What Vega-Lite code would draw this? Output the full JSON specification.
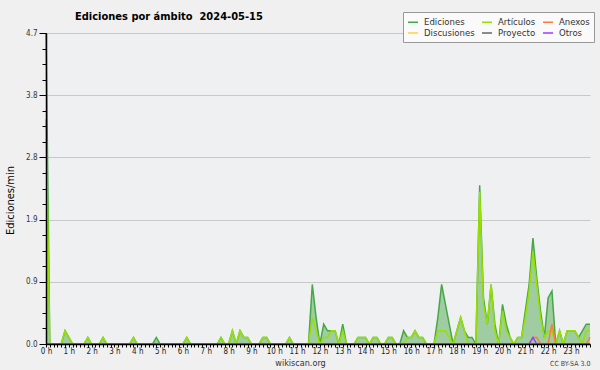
{
"$schema": "https://vega.github.io/schema/vega-lite/v6.json",
"width": 544, "height": 311,
"autosize": {"type": "none"},
"padding": {"left": 46, "top": 33, "right": 10, "bottom": 26},
"background": "#f0f0f0",
"view": {"stroke": null, "fill": "#eef0f2"},
"title": {"text": "Ediciones por ámbito\u00a0 2024-05-15", "anchor": "start", "frame": "group", "dx": 29, "dy": 22, "offset": 12, "font": "DejaVu Sans Condensed", "fontSize": 11, "fontWeight": "bold", "color": "#000000"},
"data": {"values": [
{"min":0,"ed":4.7,"art":3.4,"anx":0,"dis":0,"pro":0,"otr":0},
{"min":10,"ed":0,"art":0,"anx":0,"dis":0,"pro":0,"otr":0},
{"min":20,"ed":0,"art":0,"anx":0,"dis":0,"pro":0,"otr":0},
{"min":30,"ed":0,"art":0,"anx":0,"dis":0,"pro":0,"otr":0},
{"min":40,"ed":0,"art":0,"anx":0,"dis":0,"pro":0,"otr":0},
{"min":50,"ed":0.2,"art":0.2,"anx":0,"dis":0,"pro":0,"otr":0},
{"min":60,"ed":0.1,"art":0.1,"anx":0,"dis":0,"pro":0,"otr":0},
{"min":70,"ed":0,"art":0,"anx":0,"dis":0,"pro":0,"otr":0},
{"min":80,"ed":0,"art":0,"anx":0,"dis":0,"pro":0,"otr":0},
{"min":90,"ed":0,"art":0,"anx":0,"dis":0,"pro":0,"otr":0},
{"min":100,"ed":0,"art":0,"anx":0,"dis":0,"pro":0,"otr":0},
{"min":110,"ed":0.1,"art":0.1,"anx":0,"dis":0,"pro":0,"otr":0},
{"min":120,"ed":0,"art":0,"anx":0,"dis":0,"pro":0,"otr":0},
{"min":130,"ed":0,"art":0,"anx":0,"dis":0,"pro":0,"otr":0},
{"min":140,"ed":0,"art":0,"anx":0,"dis":0,"pro":0,"otr":0},
{"min":150,"ed":0.1,"art":0.1,"anx":0,"dis":0,"pro":0,"otr":0},
{"min":160,"ed":0,"art":0,"anx":0,"dis":0,"pro":0,"otr":0},
{"min":170,"ed":0,"art":0,"anx":0,"dis":0,"pro":0,"otr":0},
{"min":180,"ed":0,"art":0,"anx":0,"dis":0,"pro":0,"otr":0},
{"min":190,"ed":0,"art":0,"anx":0,"dis":0,"pro":0,"otr":0},
{"min":200,"ed":0,"art":0,"anx":0,"dis":0,"pro":0,"otr":0},
{"min":210,"ed":0,"art":0,"anx":0,"dis":0,"pro":0,"otr":0},
{"min":220,"ed":0,"art":0,"anx":0,"dis":0,"pro":0,"otr":0},
{"min":230,"ed":0.1,"art":0.1,"anx":0,"dis":0,"pro":0,"otr":0},
{"min":240,"ed":0,"art":0,"anx":0,"dis":0,"pro":0,"otr":0},
{"min":250,"ed":0,"art":0,"anx":0,"dis":0,"pro":0,"otr":0},
{"min":260,"ed":0,"art":0,"anx":0,"dis":0,"pro":0,"otr":0},
{"min":270,"ed":0,"art":0,"anx":0,"dis":0,"pro":0,"otr":0},
{"min":280,"ed":0,"art":0,"anx":0,"dis":0,"pro":0,"otr":0},
{"min":290,"ed":0.1,"art":0,"anx":0,"dis":0,"pro":0,"otr":0},
{"min":300,"ed":0,"art":0,"anx":0,"dis":0,"pro":0,"otr":0},
{"min":310,"ed":0,"art":0,"anx":0,"dis":0,"pro":0,"otr":0},
{"min":320,"ed":0,"art":0,"anx":0,"dis":0,"pro":0,"otr":0},
{"min":330,"ed":0,"art":0,"anx":0,"dis":0,"pro":0,"otr":0},
{"min":340,"ed":0,"art":0,"anx":0,"dis":0,"pro":0,"otr":0},
{"min":350,"ed":0,"art":0,"anx":0,"dis":0,"pro":0,"otr":0},
{"min":360,"ed":0,"art":0,"anx":0,"dis":0,"pro":0,"otr":0},
{"min":370,"ed":0.1,"art":0.1,"anx":0,"dis":0,"pro":0,"otr":0},
{"min":380,"ed":0,"art":0,"anx":0,"dis":0,"pro":0,"otr":0},
{"min":390,"ed":0,"art":0,"anx":0,"dis":0,"pro":0,"otr":0},
{"min":400,"ed":0,"art":0,"anx":0,"dis":0,"pro":0,"otr":0},
{"min":410,"ed":0,"art":0,"anx":0,"dis":0,"pro":0,"otr":0},
{"min":420,"ed":0,"art":0,"anx":0,"dis":0,"pro":0,"otr":0},
{"min":430,"ed":0,"art":0,"anx":0,"dis":0,"pro":0,"otr":0},
{"min":440,"ed":0,"art":0,"anx":0,"dis":0,"pro":0,"otr":0},
{"min":450,"ed":0,"art":0,"anx":0,"dis":0,"pro":0,"otr":0},
{"min":460,"ed":0.1,"art":0.1,"anx":0,"dis":0,"pro":0,"otr":0},
{"min":470,"ed":0,"art":0,"anx":0,"dis":0,"pro":0,"otr":0},
{"min":480,"ed":0,"art":0,"anx":0,"dis":0,"pro":0,"otr":0},
{"min":490,"ed":0.2,"art":0.2,"anx":0,"dis":0,"pro":0,"otr":0},
{"min":500,"ed":0,"art":0,"anx":0,"dis":0,"pro":0,"otr":0},
{"min":510,"ed":0.2,"art":0.2,"anx":0,"dis":0,"pro":0,"otr":0},
{"min":520,"ed":0.1,"art":0.1,"anx":0,"dis":0,"pro":0,"otr":0},
{"min":530,"ed":0.1,"art":0.1,"anx":0,"dis":0,"pro":0,"otr":0},
{"min":540,"ed":0,"art":0,"anx":0,"dis":0,"pro":0,"otr":0},
{"min":550,"ed":0,"art":0,"anx":0,"dis":0,"pro":0,"otr":0},
{"min":560,"ed":0,"art":0,"anx":0,"dis":0,"pro":0,"otr":0},
{"min":570,"ed":0.1,"art":0.1,"anx":0,"dis":0,"pro":0,"otr":0},
{"min":580,"ed":0.1,"art":0.1,"anx":0,"dis":0,"pro":0,"otr":0},
{"min":590,"ed":0,"art":0,"anx":0,"dis":0,"pro":0,"otr":0},
{"min":600,"ed":0,"art":0,"anx":0,"dis":0,"pro":0,"otr":0},
{"min":610,"ed":0,"art":0,"anx":0,"dis":0,"pro":0,"otr":0},
{"min":620,"ed":0,"art":0,"anx":0,"dis":0,"pro":0,"otr":0},
{"min":630,"ed":0,"art":0,"anx":0,"dis":0,"pro":0,"otr":0},
{"min":640,"ed":0.1,"art":0.1,"anx":0,"dis":0,"pro":0,"otr":0},
{"min":650,"ed":0,"art":0,"anx":0,"dis":0,"pro":0,"otr":0},
{"min":660,"ed":0,"art":0,"anx":0,"dis":0,"pro":0,"otr":0},
{"min":670,"ed":0,"art":0,"anx":0,"dis":0,"pro":0,"otr":0},
{"min":680,"ed":0,"art":0,"anx":0,"dis":0,"pro":0,"otr":0},
{"min":690,"ed":0,"art":0,"anx":0,"dis":0,"pro":0,"otr":0},
{"min":700,"ed":0.9,"art":0.4,"anx":0,"dis":0,"pro":0,"otr":0},
{"min":710,"ed":0.4,"art":0.2,"anx":0,"dis":0,"pro":0,"otr":0},
{"min":720,"ed":0,"art":0,"anx":0,"dis":0,"pro":0,"otr":0},
{"min":730,"ed":0.3,"art":0.1,"anx":0,"dis":0,"pro":0,"otr":0},
{"min":740,"ed":0.2,"art":0.1,"anx":0,"dis":0,"pro":0,"otr":0},
{"min":750,"ed":0.2,"art":0.2,"anx":0,"dis":0,"pro":0,"otr":0},
{"min":760,"ed":0.2,"art":0.2,"anx":0,"dis":0,"pro":0,"otr":0},
{"min":770,"ed":0,"art":0,"anx":0,"dis":0,"pro":0,"otr":0},
{"min":780,"ed":0.3,"art":0.2,"anx":0,"dis":0,"pro":0,"otr":0},
{"min":790,"ed":0,"art":0,"anx":0,"dis":0,"pro":0,"otr":0},
{"min":800,"ed":0,"art":0,"anx":0,"dis":0,"pro":0,"otr":0},
{"min":810,"ed":0,"art":0,"anx":0,"dis":0,"pro":0,"otr":0},
{"min":820,"ed":0.1,"art":0.1,"anx":0,"dis":0,"pro":0,"otr":0},
{"min":830,"ed":0.1,"art":0.1,"anx":0,"dis":0,"pro":0,"otr":0},
{"min":840,"ed":0.1,"art":0.1,"anx":0,"dis":0,"pro":0,"otr":0},
{"min":850,"ed":0,"art":0,"anx":0,"dis":0,"pro":0,"otr":0},
{"min":860,"ed":0.1,"art":0.1,"anx":0,"dis":0,"pro":0,"otr":0},
{"min":870,"ed":0.1,"art":0.1,"anx":0,"dis":0,"pro":0,"otr":0},
{"min":880,"ed":0,"art":0,"anx":0,"dis":0,"pro":0,"otr":0},
{"min":890,"ed":0,"art":0,"anx":0,"dis":0,"pro":0,"otr":0},
{"min":900,"ed":0.1,"art":0.1,"anx":0,"dis":0,"pro":0,"otr":0},
{"min":910,"ed":0.1,"art":0.1,"anx":0,"dis":0,"pro":0,"otr":0},
{"min":920,"ed":0,"art":0,"anx":0,"dis":0,"pro":0,"otr":0},
{"min":930,"ed":0,"art":0,"anx":0,"dis":0,"pro":0,"otr":0},
{"min":940,"ed":0.2,"art":0,"anx":0,"dis":0,"pro":0,"otr":0},
{"min":950,"ed":0.1,"art":0.1,"anx":0,"dis":0,"pro":0,"otr":0},
{"min":960,"ed":0.1,"art":0.1,"anx":0,"dis":0,"pro":0,"otr":0},
{"min":970,"ed":0.2,"art":0.2,"anx":0,"dis":0,"pro":0,"otr":0},
{"min":980,"ed":0.1,"art":0.1,"anx":0,"dis":0,"pro":0,"otr":0},
{"min":990,"ed":0.1,"art":0.1,"anx":0,"dis":0,"pro":0,"otr":0},
{"min":1000,"ed":0,"art":0,"anx":0,"dis":0,"pro":0,"otr":0},
{"min":1010,"ed":0,"art":0,"anx":0,"dis":0,"pro":0,"otr":0},
{"min":1020,"ed":0,"art":0,"anx":0,"dis":0,"pro":0,"otr":0},
{"min":1030,"ed":0.4,"art":0.2,"anx":0,"dis":0,"pro":0,"otr":0},
{"min":1040,"ed":0.9,"art":0.2,"anx":0,"dis":0,"pro":0,"otr":0},
{"min":1050,"ed":0.6,"art":0.2,"anx":0,"dis":0,"pro":0,"otr":0},
{"min":1060,"ed":0.3,"art":0.1,"anx":0,"dis":0,"pro":0,"otr":0},
{"min":1070,"ed":0,"art":0,"anx":0,"dis":0,"pro":0,"otr":0},
{"min":1080,"ed":0.2,"art":0.2,"anx":0,"dis":0,"pro":0,"otr":0},
{"min":1090,"ed":0.4,"art":0.4,"anx":0,"dis":0,"pro":0,"otr":0},
{"min":1100,"ed":0.2,"art":0.2,"anx":0,"dis":0,"pro":0,"otr":0},
{"min":1110,"ed":0.1,"art":0,"anx":0,"dis":0,"pro":0,"otr":0},
{"min":1120,"ed":0.1,"art":0,"anx":0,"dis":0,"pro":0,"otr":0},
{"min":1130,"ed":0,"art":0,"anx":0,"dis":0,"pro":0,"otr":0},
{"min":1140,"ed":2.4,"art":2.3,"anx":0,"dis":0,"pro":0,"otr":0},
{"min":1150,"ed":0.7,"art":0.6,"anx":0,"dis":0,"pro":0,"otr":0},
{"min":1160,"ed":0.3,"art":0.3,"anx":0,"dis":0,"pro":0,"otr":0},
{"min":1170,"ed":0.9,"art":0.9,"anx":0,"dis":0,"pro":0,"otr":0},
{"min":1180,"ed":0.3,"art":0.2,"anx":0,"dis":0,"pro":0,"otr":0},
{"min":1190,"ed":0,"art":0,"anx":0,"dis":0,"pro":0,"otr":0},
{"min":1200,"ed":0.6,"art":0.5,"anx":0,"dis":0,"pro":0,"otr":0},
{"min":1210,"ed":0.3,"art":0.2,"anx":0,"dis":0,"pro":0,"otr":0},
{"min":1220,"ed":0.1,"art":0.1,"anx":0,"dis":0,"pro":0,"otr":0},
{"min":1230,"ed":0,"art":0,"anx":0,"dis":0,"pro":0,"otr":0},
{"min":1240,"ed":0.1,"art":0.1,"anx":0,"dis":0,"pro":0,"otr":0},
{"min":1250,"ed":0.1,"art":0.1,"anx":0,"dis":0,"pro":0,"otr":0},
{"min":1260,"ed":0.5,"art":0.4,"anx":0,"dis":0,"pro":0,"otr":0},
{"min":1270,"ed":0.9,"art":0.8,"anx":0,"dis":0,"pro":0,"otr":0},
{"min":1280,"ed":1.6,"art":1.4,"anx":0.1,"dis":0,"pro":0,"otr":0.1},
{"min":1290,"ed":1.0,"art":0.9,"anx":0.1,"dis":0,"pro":0,"otr":0},
{"min":1300,"ed":0.5,"art":0.4,"anx":0,"dis":0,"pro":0,"otr":0},
{"min":1310,"ed":0.1,"art":0.1,"anx":0,"dis":0,"pro":0,"otr":0},
{"min":1320,"ed":0.7,"art":0.2,"anx":0,"dis":0,"pro":0,"otr":0},
{"min":1330,"ed":0.8,"art":0.2,"anx":0.3,"dis":0,"pro":0,"otr":0},
{"min":1340,"ed":0,"art":0,"anx":0,"dis":0,"pro":0,"otr":0},
{"min":1350,"ed":0.2,"art":0.2,"anx":0,"dis":0,"pro":0,"otr":0},
{"min":1360,"ed":0,"art":0,"anx":0,"dis":0,"pro":0,"otr":0},
{"min":1370,"ed":0.2,"art":0.2,"anx":0,"dis":0,"pro":0,"otr":0},
{"min":1380,"ed":0.2,"art":0.2,"anx":0,"dis":0,"pro":0,"otr":0},
{"min":1390,"ed":0.2,"art":0.2,"anx":0,"dis":0,"pro":0,"otr":0},
{"min":1400,"ed":0.1,"art":0.1,"anx":0,"dis":0,"pro":0,"otr":0},
{"min":1410,"ed":0.2,"art":0,"anx":0,"dis":0,"pro":0,"otr":0},
{"min":1420,"ed":0.3,"art":0.2,"anx":0,"dis":0,"pro":0,"otr":0},
{"min":1430,"ed":0.3,"art":0.2,"anx":0.1,"dis":0,"pro":0,"otr":0}
]},
"layer": [
{"mark": {"type": "area", "color": "#3fa03f", "opacity": 0.45},
 "encoding": {
  "x": {"field": "min", "type": "quantitative", "scale": {"domain": [0, 1430], "nice": false, "zero": false},
   "axis": {"orient": "bottom", "values": [0,10,20,30,40,50,60,70,80,90,100,110,120,130,140,150,160,170,180,190,200,210,220,230,240,250,260,270,280,290,300,310,320,330,340,350,360,370,380,390,400,410,420,430,440,450,460,470,480,490,500,510,520,530,540,550,560,570,580,590,600,610,620,630,640,650,660,670,680,690,700,710,720,730,740,750,760,770,780,790,800,810,820,830,840,850,860,870,880,890,900,910,920,930,940,950,960,970,980,990,1000,1010,1020,1030,1040,1050,1060,1070,1080,1090,1100,1110,1120,1130,1140,1150,1160,1170,1180,1190,1200,1210,1220,1230,1240,1250,1260,1270,1280,1290,1300,1310,1320,1330,1340,1350,1360,1370,1380,1390,1400,1410,1420,1430],
    "labels": false, "ticks": true, "tickSize": 3, "tickColor": "#000000", "tickWidth": 1, "domain": true, "domainColor": "#000000", "domainWidth": 1.5, "grid": false,
    "title": "CC BY-SA 3.0", "titleFont": "DejaVu Sans Condensed", "titleFontSize": 7, "titleFontWeight": "normal", "titleColor": "#444444", "titleAlign": "right", "titleAnchor": "end", "titleX": 544, "titleY": 21, "titleBaseline": "alphabetic", "zindex": 1}},
  "y": {"field": "ed", "type": "quantitative", "scale": {"domain": [0, 4.7], "nice": false, "zero": true},
   "axis": {"orient": "left", "values": [0,0.235,0.47,0.705,0.94,1.175,1.41,1.645,1.88,2.115,2.35,2.585,2.82,3.055,3.29,3.525,3.76,3.995,4.23,4.465,4.7],
    "labels": false, "ticks": true, "tickSize": 4, "tickColor": "#000000", "domain": true, "domainColor": "#000000", "domainWidth": 1.5, "grid": false, "title": null, "zindex": 1}}
 }},
{"mark": {"type": "line", "strokeWidth": 1.5},
 "encoding": {
  "x": {"field": "min", "type": "quantitative",
   "axis": {"orient": "bottom", "values": [0,60,120,180,240,300,360,420,480,540,600,660,720,780,840,900,960,1020,1080,1140,1200,1260,1320,1380],
    "labelExpr": "datum.value / 60 + ' h'", "ticks": false, "domain": false, "grid": false, "labelPadding": 3, "labelFont": "DejaVu Sans Condensed", "labelFontSize": 8, "labelColor": "#222222", "labelFlush": false, "labelOverlap": false, "labelBound": false,
    "title": "wikiscan.org", "titleFont": "DejaVu Sans Condensed", "titleFontSize": 9, "titleFontWeight": "normal", "titleColor": "#333333", "titleX": 254, "titleY": 21, "titleAlign": "center", "titleBaseline": "alphabetic"}},
  "y": {"field": "ed", "type": "quantitative",
   "axis": {"orient": "left", "values": [0, 0.94, 1.88, 2.82, 3.76, 4.7], "format": ".1f", "tickSize": 7, "tickColor": "#000000", "domain": false, "grid": true, "gridColor": "#c8c8c8", "gridWidth": 1,
    "labelFont": "DejaVu Sans Condensed", "labelFontSize": 8, "labelColor": "#333333", "labelPadding": 2, "labelFlush": false, "labelOverlap": false, "labelBound": false,
    "title": "Ediciones/min", "titleFont": "DejaVu Sans Condensed", "titleFontSize": 11, "titleFontWeight": "normal", "titleColor": "#000000", "titleAngle": 270, "titleX": -36, "titleY": 167, "titleAlign": "center", "titleBaseline": "middle", "zindex": 0}},
  "color": {"datum": "Ediciones", "type": "nominal",
   "scale": {"domain": ["Ediciones", "Discusiones", "Artículos", "Proyecto", "Anexos", "Otros"], "range": ["#45a845", "#ffd23c", "#99e000", "#666666", "#ff7b3a", "#9a3cff"]},
   "legend": {"orient": "none", "legendX": 357, "legendY": -21, "columns": 3, "title": null, "symbolType": "stroke", "symbolSize": 100, "symbolStrokeWidth": 1.5,
    "labelFont": "DejaVu Sans Condensed", "labelFontSize": 9.5, "labelColor": "#333333", "labelOffset": 5, "fillColor": "#fafafa", "strokeColor": "#999999", "padding": 4, "rowPadding": -2, "columnPadding": 4, "zindex": 2}}
 }},
{"mark": {"type": "line", "strokeWidth": 1.5},
 "encoding": {"x": {"field": "min", "type": "quantitative", "axis": null}, "y": {"field": "art", "type": "quantitative", "axis": null}, "color": {"datum": "Artículos", "type": "nominal"}}},
{"mark": {"type": "line", "strokeWidth": 1.5},
 "encoding": {"x": {"field": "min", "type": "quantitative", "axis": null}, "y": {"field": "dis", "type": "quantitative", "axis": null}, "color": {"datum": "Discusiones", "type": "nominal"}}},
{"mark": {"type": "line", "strokeWidth": 1.5},
 "encoding": {"x": {"field": "min", "type": "quantitative", "axis": null}, "y": {"field": "pro", "type": "quantitative", "axis": null}, "color": {"datum": "Proyecto", "type": "nominal"}}},
{"mark": {"type": "line", "strokeWidth": 1.5},
 "encoding": {"x": {"field": "min", "type": "quantitative", "axis": null}, "y": {"field": "anx", "type": "quantitative", "axis": null}, "color": {"datum": "Anexos", "type": "nominal"}}},
{"mark": {"type": "line", "strokeWidth": 1.5},
 "encoding": {"x": {"field": "min", "type": "quantitative", "axis": null}, "y": {"field": "otr", "type": "quantitative", "axis": null}, "color": {"datum": "Otros", "type": "nominal"}}}
],
"resolve": {"axis": {"x": "independent", "y": "independent"}}
}
